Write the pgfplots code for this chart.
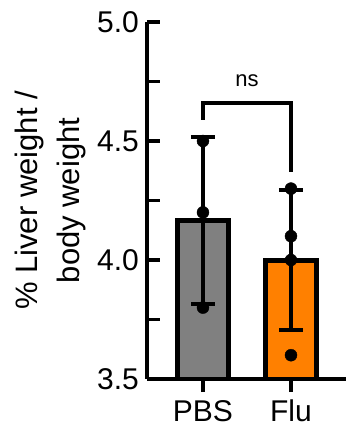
\documentclass[border=0pt]{standalone}
\usepackage{fontspec}
\setmainfont{Liberation Sans}
\usepackage{pgfplots}
\pgfplotsset{compat=1.18}
\definecolor{pbsgray}{RGB}{128,128,128}
\definecolor{fluorange}{RGB}{255,128,0}
\begin{document}
\begin{tikzpicture}
\useasboundingbox (0,0) rectangle (346pt,429pt);
\begin{axis}[
  at={(147pt,50pt)}, anchor=south west,
  scale only axis, width=199pt, height=357pt,
  xmin=-0.636, xmax=1.625, ymin=3.5, ymax=5.0,
  axis x line*=bottom, axis y line*=left,
  axis line style={line width=4pt, -, black},
  xtick={0,1}, xticklabels={PBS,Flu},
  ytick={3.5,4,4.5,5}, minor ytick={3.75,4.25,4.75},
  /pgf/number format/assume math mode=true,
  tick label style={font=\fontsize{30}{35}\selectfont, inner sep=0pt},
  yticklabel style={/pgf/number format/fixed, /pgf/number format/fixed zerofill,
    /pgf/number format/precision=1, xshift=-8pt},
  xticklabel style={yshift=-8pt},
  major tick length=13pt, minor tick length=13pt,
  tick style={line width=3.5pt, black},
  minor tick style={line width=3.5pt, black},
  xtick align=outside, ytick align=inside,
  ylabel={\% Liver weight /\\body weight},
  ylabel style={align=center, font=\fontsize{31}{42}\selectfont, inner sep=0pt,
    at={(axis description cs:-0.3065,0.5)}, anchor=south},
]
\addplot[ybar, bar width=51pt, bar shift=0pt, fill=pbsgray, draw=black, line width=5pt,
  error bars/.cd, y dir=both, y explicit,
  error bar style={line width=4.5pt, black},
  error mark options={rotate=90, mark size=12pt, line width=4.5pt, black}]
  coordinates {(0,4.1667) +- (0,0.351)};
\addplot[ybar, bar width=51pt, bar shift=0pt, fill=fluorange, draw=black, line width=5pt,
  error bars/.cd, y dir=both, y explicit,
  error bar style={line width=4.5pt, black},
  error mark options={rotate=90, mark size=12pt, line width=4.5pt, black}]
  coordinates {(1,4.0) +- (0,0.294)};
\addplot[only marks, mark=*, mark size=6pt, black] coordinates {(0,4.5) (0,4.2) (0,3.8)};
\addplot[only marks, mark=*, mark size=6pt, black] coordinates {(1,4.3) (1,4.1) (1,4.0) (1,3.6)};
\draw[line width=3.5pt] (axis cs:0,4.59) -- (axis cs:0,4.66) -- (axis cs:1,4.66) -- (axis cs:1,4.37);
\node[anchor=base, font=\fontsize{22}{26}\selectfont, inner sep=0pt] at (axis cs:0.5,4.727) {ns};
\end{axis}
\end{tikzpicture}
\end{document}
